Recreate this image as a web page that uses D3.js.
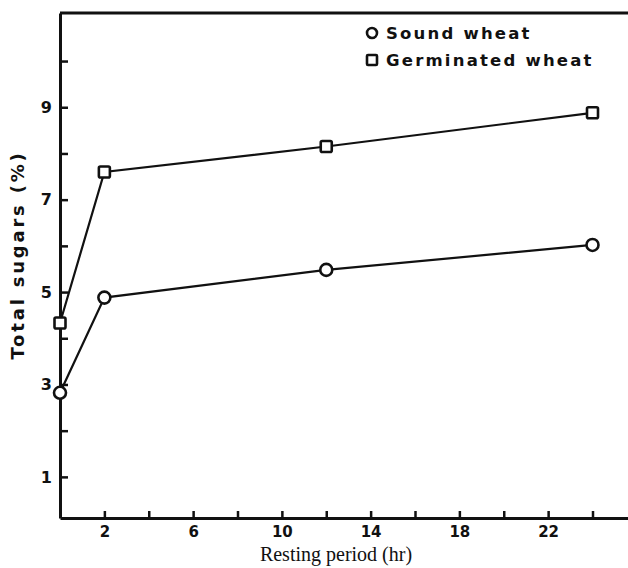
<!DOCTYPE html>
<html>
<head>
<meta charset="utf-8">
<script src="https://cdn.jsdelivr.net/npm/d3@7"></script>
<style>
  html, body { margin: 0; padding: 0; background: #fff; }
  svg { display: block; }
</style>
</head>
<body>
<svg id="chart" width="628" height="568"></svg>
<script>
// Resting period (hr) at which total sugars were measured
const hours = [0, 2, 12, 24];
// Total sugars (%) per series
const soundWheat = [2.82, 4.88, 5.48, 6.02];
const germinatedWheat = [4.33, 7.60, 8.15, 8.88];
// Axis ticks
const xTicks = [2, 4, 6, 8, 10, 12, 14, 16, 18, 20, 22, 24];
const xTickLabels = ["2", "6", "10", "14", "18", "22"];
const yTicks = [1, 2, 3, 4, 5, 6, 7, 8, 9, 10];
const yTickLabels = ["1", "3", "5", "7", "9"];
const seriesNames = ["Sound wheat", "Germinated wheat"];

const svg = d3.select("#chart");
const ink = "#111";

const margin = { left: 60, top: 13, right: 0, bottom: 50 };
const W = 628, H = 568;

const x = d3.scaleLinear().domain([0, 25.6]).range([margin.left, W]);
const y = d3.scaleLinear().domain([0.11, 11.04]).range([H - margin.bottom, margin.top]);

const tickFont = "'DejaVu Sans', sans-serif";

// Bottom axis with inward ticks
const xAxis = d3.axisBottom(x)
  .tickValues(xTicks)
  .tickSizeInner(-7)
  .tickSizeOuter(0)
  .tickFormat(d => xTickLabels.includes(String(d)) ? String(d) : "");
const gx = svg.append("g")
  .attr("transform", `translate(0,${y.range()[0]})`)
  .call(xAxis);
gx.select(".domain").attr("stroke", ink).attr("stroke-width", 3);
gx.selectAll(".tick line").attr("stroke", ink).attr("stroke-width", 2.5);
gx.selectAll(".tick text")
  .attr("y", 8)
  .attr("fill", ink)
  .style("font", `bold 15px ${tickFont}`);

// Left axis with inward ticks
const yAxis = d3.axisLeft(y)
  .tickValues(yTicks)
  .tickSizeInner(-8)
  .tickSizeOuter(0)
  .tickFormat(d => yTickLabels.includes(String(d)) ? String(d) : "");
const gy = svg.append("g")
  .attr("transform", `translate(${x(0)},0)`)
  .call(yAxis);
gy.select(".domain").attr("stroke", ink).attr("stroke-width", 3);
gy.selectAll(".tick line").attr("stroke", ink).attr("stroke-width", 2.5);
gy.selectAll(".tick text")
  .attr("x", -8)
  .attr("fill", ink)
  .style("font", `bold 16px ${tickFont}`);

// Top frame line
svg.append("line")
  .attr("x1", x(0)).attr("x2", W)
  .attr("y1", y.range()[1]).attr("y2", y.range()[1])
  .attr("stroke", ink).attr("stroke-width", 3);

const line = d3.line()
  .x((d, i) => x(hours[i]))
  .y(d => y(d));

// Series lines
[soundWheat, germinatedWheat].forEach(vals => {
  svg.append("path")
    .datum(vals)
    .attr("d", line)
    .attr("fill", "none")
    .attr("stroke", ink)
    .attr("stroke-width", 2.2);
});

// Circle markers: sound wheat
svg.append("g").selectAll("circle")
  .data(soundWheat)
  .join("circle")
  .attr("cx", (d, i) => x(hours[i]))
  .attr("cy", d => y(d))
  .attr("r", 6)
  .attr("fill", "#fff")
  .attr("stroke", ink)
  .attr("stroke-width", 2.6);

// Square markers: germinated wheat
const sq = 11;
svg.append("g").selectAll("rect")
  .data(germinatedWheat)
  .join("rect")
  .attr("x", (d, i) => x(hours[i]) - sq / 2)
  .attr("y", d => y(d) - sq / 2)
  .attr("width", sq)
  .attr("height", sq)
  .attr("rx", 1.5)
  .attr("fill", "#fff")
  .attr("stroke", ink)
  .attr("stroke-width", 2.6);

// Legend
const legend = svg.append("g").attr("transform", "translate(372,0)");
legend.append("circle")
  .attr("cx", 0).attr("cy", 33).attr("r", 5)
  .attr("fill", "#fff").attr("stroke", ink).attr("stroke-width", 2.6);
legend.append("rect")
  .attr("x", -5).attr("y", 55).attr("width", 10).attr("height", 10).attr("rx", 1)
  .attr("fill", "#fff").attr("stroke", ink).attr("stroke-width", 2.6);
legend.selectAll("text.lg")
  .data(seriesNames)
  .join("text")
  .attr("class", "lg")
  .attr("x", 14)
  .attr("y", (d, i) => 39 + i * 27)
  .attr("fill", ink)
  .style("font", `bold 16.5px ${tickFont}`)
  .style("letter-spacing", "2.2px")
  .text(d => d);

// Axis titles
svg.append("text")
  .attr("transform", "translate(24,255) rotate(-90)")
  .attr("text-anchor", "middle")
  .attr("fill", ink)
  .style("font", `bold 18px ${tickFont}`)
  .style("letter-spacing", "2.8px")
  .text("Total sugars (%)");

svg.append("text")
  .attr("x", 336)
  .attr("y", 561)
  .attr("text-anchor", "middle")
  .attr("fill", ink)
  .style("font", "20px 'Liberation Serif', 'Times New Roman', serif")
  .text("Resting period (hr)");
</script>
</body>
</html>
